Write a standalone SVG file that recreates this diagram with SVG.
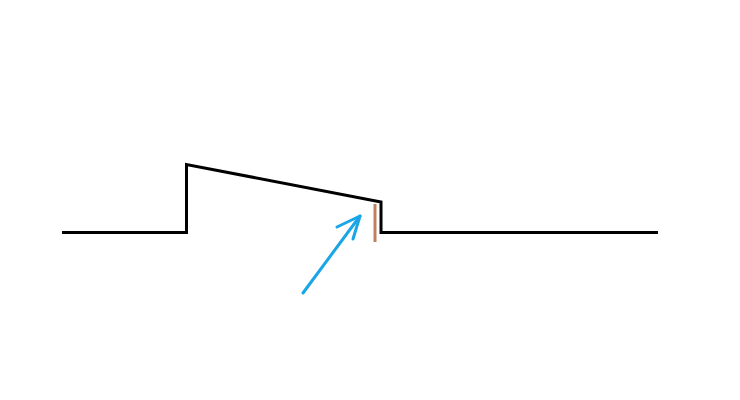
<svg xmlns="http://www.w3.org/2000/svg" width="740" height="400" viewBox="0 0 740 400">
<style>
.w{fill:none;stroke:#000;stroke-width:3;stroke-linejoin:miter}
.b{fill:none;stroke:#c08060;stroke-width:3}
.a{fill:none;stroke:#1aa6e6;stroke-width:3;stroke-linecap:round;stroke-linejoin:round}
</style>
<rect width="740" height="400" fill="#fff"/>
<path class="w" d="M62,232.5 H186.5 V164.5 L381,202 V232.5 H658"/>
<line class="b" x1="375" y1="204" x2="375" y2="242"/>
<g class="a">
<line x1="303" y1="293" x2="360" y2="216"/>
<polyline points="337,227 360,216 353,239"/>
</g>
</svg>
